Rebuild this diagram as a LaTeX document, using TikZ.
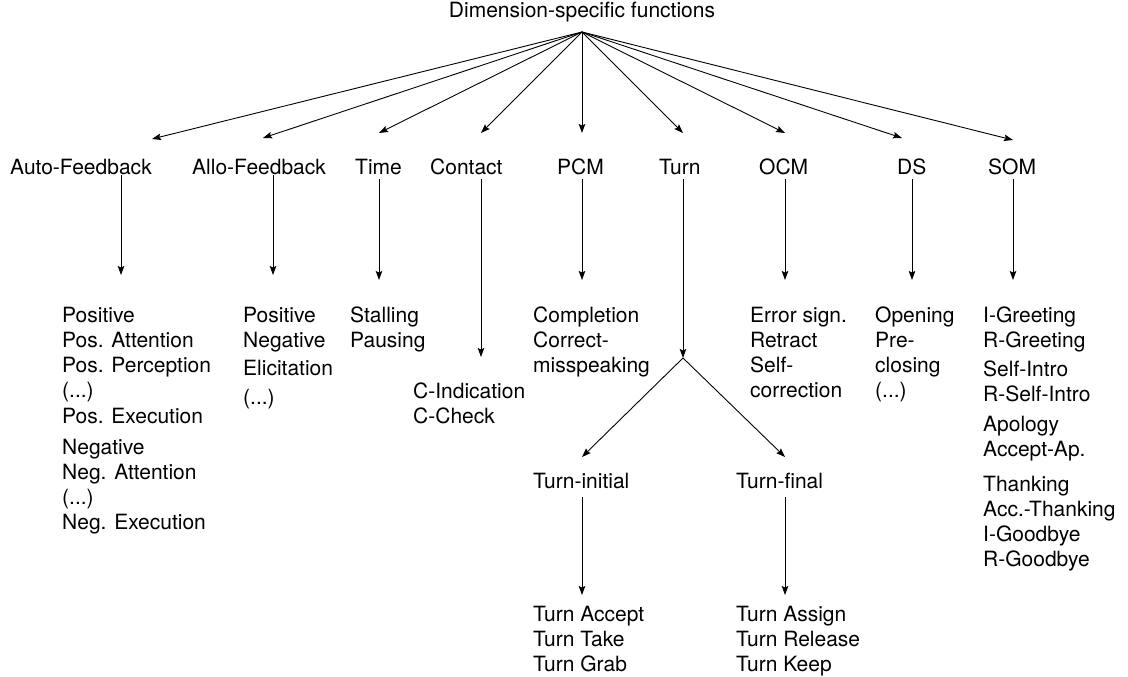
\documentclass[tikz,border=0pt]{standalone}
\usepackage{fontspec}
\setmainfont{TeX Gyre Heros}
\usetikzlibrary{arrows.meta}
\newcommand\pdots{(...)}
\begin{document}
\begin{tikzpicture}[x=1pt,y=-1pt,
  lbl/.style={font=\fontsize{21}{25}\selectfont, inner sep=0pt, anchor=base west},
  arr/.style={-{Stealth[length=9pt,width=6.5pt,inset=1.5pt]}, line width=0.9pt}]
\useasboundingbox (0,0) rectangle (1128,677);

% root
\node[lbl, anchor=base] (root) at (582,18) {Dimension-specific functions};
\coordinate (o) at (582,32);

% level 1
\node[lbl] (auto) at (10,174) {Auto-Feedback};
\node[lbl] (allo) at (192,174) {Allo-Feedback};
\node[lbl] (time) at (355,174) {Time};
\node[lbl] (contact) at (430,174) {Contact};
\node[lbl] (pcm) at (557,174) {PCM};
\node[lbl] (turn) at (659,174) {Turn};
\node[lbl] (ocm) at (759,174) {OCM};
\node[lbl] (ds) at (897,174) {DS};
\node[lbl] (som) at (988,174) {SOM};

% arrows from root
\foreach \n/\x/\y in {tauto/152/139, tallo/263/138, ttime/379/133, tcontact/481/133,
  tpcm/582/133, tturn/683/133, tocm/785/133, tds/902/138, tsom/1013/140}{
  \coordinate (\n) at (\x,\y);
  \draw[arr] (o) -- (\n);
}

% vertical arrows
\foreach \n/\x/\a/\b in {vauto/121/175/275, vallo/273/175/275, vtime/379/179/280,
  vcontact/481/179/357, vpcm/582/179/280, vturn/683/179/358, vocm/785/179/280,
  vds/912/179/280, vsom/1013/179/280, vini/582/497/595, vfin/785/497/595}{
  \coordinate (\n S) at (\x,\a);
  \coordinate (\n E) at (\x,\b);
  \draw[arr] (\n S) -- (\n E);
}

% branch of Turn
\coordinate (tini) at (582,457);
\coordinate (tfin) at (785,457);
\draw[arr] (vturnE) -- (tini);
\draw[arr] (vturnE) -- (tfin);

\node[lbl] (turnini) at (533,488) {Turn-initial};
\node[lbl] (turnfin) at (736,488) {Turn-final};

% blocks
\foreach \t/\y [count=\i] in {Positive/322, Pos. Attention/347, Pos. Perception/372,
  \pdots/397, Pos. Execution/423, Negative/454, Neg. Attention/479, \pdots/504, Neg. Execution/529}
  \node[lbl] (auto\i) at (62,\y) {\t};

\foreach \t/\y [count=\i] in {Positive/322, Negative/347, Elicitation/375, \pdots/404}
  \node[lbl] (allo\i) at (243,\y) {\t};

\foreach \t/\y [count=\i] in {Stalling/322, Pausing/347}
  \node[lbl] (time\i) at (350,\y) {\t};

\foreach \t/\y [count=\i] in {C-Indication/398, C-Check/423}
  \node[lbl] (contact\i) at (413,\y) {\t};

\foreach \t/\y [count=\i] in {Completion/322, Correct-/347, misspeaking/372}
  \node[lbl] (pcm\i) at (533,\y) {\t};

\foreach \t/\y [count=\i] in {Error sign./322, Retract/347, Self-/372, correction/397}
  \node[lbl] (ocm\i) at (750,\y) {\t};

\foreach \t/\y [count=\i] in {Opening/322, Pre-/347, closing/372, \pdots/397}
  \node[lbl] (ds\i) at (875,\y) {\t};

\foreach \t/\y [count=\i] in {I-Greeting/322, R-Greeting/347, Self-Intro/376, R-Self-Intro/401,
  Apology/431, Accept-Ap./456, Thanking/491, Acc.-Thanking/516, I-Goodbye/541, R-Goodbye/566}
  \node[lbl] (som\i) at (983,\y) {\t};

\foreach \t/\y [count=\i] in {Turn Accept/621, Turn Take/646, Turn Grab/671}
  \node[lbl] (ini\i) at (533,\y) {\t};

\foreach \t/\y [count=\i] in {Turn Assign/621, Turn Release/646, Turn Keep/671}
  \node[lbl] (fin\i) at (736,\y) {\t};
\end{tikzpicture}
\end{document}
